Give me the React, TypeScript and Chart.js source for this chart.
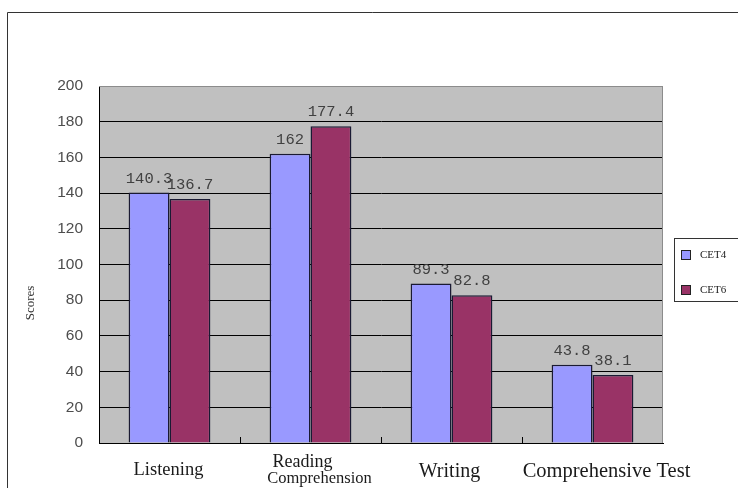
import { useEffect, useRef } from 'react';
import { Chart, registerables } from 'chart.js';

Chart.register(...registerables);

// Score categories and the two test groups
const categoryLines: string[][] = [
  ['Listening'],
  ['Reading', 'Comprehension'],
  ['Writing'],
  ['Comprehensive Test'],
];
const categories = categoryLines.map((l) => l.join(' '));
const seriesNames = ['CET4', 'CET6'];
const cet4Scores = [140.3, 162, 89.3, 43.8];
const cet6Scores = [136.7, 177.4, 82.8, 38.1];
const yMin = 0;
const yMax = 200;
const yStep = 20;
const yTitle = 'Scores';

const seriesColors = ['#9999FF', '#993366'];

// Per-line typography for the category captions under the axis
const captionStyle = [
  [{ dx: -1, y: 475, size: 18.5 }],
  [
    { dx: -8, y: 467, size: 18 },
    { dx: 9, y: 483, size: 16.5 },
  ],
  [{ dx: -2, y: 477, size: 20 }],
  [{ dx: 14, y: 477, size: 20.5 }],
];

const decorations = {
  id: 'decorations',
  beforeDraw(chart: any) {
    const { ctx, chartArea: a, width, height } = chart;
    ctx.save();
    ctx.fillStyle = '#ffffff';
    ctx.fillRect(0, 0, width, height);
    ctx.fillStyle = '#C0C0C0';
    ctx.fillRect(a.left, a.top, a.right - a.left, a.bottom - a.top);
    ctx.restore();
  },
  afterDraw(chart: any) {
    const { ctx, chartArea: a } = chart;
    const xScale = chart.scales.x;
    ctx.save();

    // plot frame: grey top and right edges
    ctx.strokeStyle = '#8c8c8c';
    ctx.lineWidth = 1;
    ctx.beginPath();
    ctx.moveTo(a.left, a.top + 0.5);
    ctx.lineTo(a.right - 0.5, a.top + 0.5);
    ctx.lineTo(a.right - 0.5, a.bottom);
    ctx.stroke();

    // inward category separators on the bottom axis
    ctx.strokeStyle = '#000000';
    ctx.beginPath();
    for (let i = 1; i < categories.length; i++) {
      const x = Math.round((xScale.getPixelForValue(i - 1) + xScale.getPixelForValue(i)) / 2) + 0.5;
      ctx.moveTo(x, a.bottom);
      ctx.lineTo(x, a.bottom - 6);
    }
    ctx.stroke();

    // value labels above bars
    ctx.font = '15.5px "Liberation Mono", monospace';
    ctx.fillStyle = '#404040';
    ctx.textAlign = 'center';
    ctx.textBaseline = 'alphabetic';
    chart.data.datasets.forEach((ds: any, di: number) => {
      const meta = chart.getDatasetMeta(di);
      meta.data.forEach((bar: any, i: number) => {
        ctx.fillText(String(ds.data[i]), bar.x, bar.y - 10);
      });
    });

    // category captions
    ctx.fillStyle = '#1a1a1a';
    ctx.textAlign = 'center';
    categoryLines.forEach((lines, i) => {
      const cx = xScale.getPixelForValue(i);
      lines.forEach((line, j) => {
        const st = captionStyle[i][j];
        ctx.font = `${st.size}px "Liberation Serif", "Times New Roman", serif`;
        ctx.fillText(line, cx + st.dx, st.y);
      });
    });

    // y axis title
    ctx.save();
    ctx.translate(31, 303);
    ctx.rotate(-Math.PI / 2);
    ctx.font = '13px "Liberation Serif", serif';
    ctx.fillStyle = '#333333';
    ctx.textAlign = 'center';
    ctx.textBaseline = 'middle';
    ctx.fillText(yTitle, 0, 0);
    ctx.restore();

    // legend box
    ctx.strokeStyle = '#333333';
    ctx.strokeRect(674.5, 238.5, 100, 63);
    ctx.font = '11px "Liberation Serif", serif';
    ctx.textAlign = 'left';
    ctx.textBaseline = 'middle';
    chart.data.datasets.forEach((ds: any, di: number) => {
      const cy = 255 + di * 35;
      ctx.fillStyle = ds.backgroundColor;
      ctx.fillRect(681, cy - 5, 10, 10);
      ctx.strokeStyle = '#222222';
      ctx.strokeRect(681.5, cy - 4.5, 9, 9);
      ctx.fillStyle = '#222222';
      ctx.fillText(ds.label, 700, cy);
    });

    // outer chart frame
    ctx.strokeStyle = '#333333';
    ctx.beginPath();
    ctx.moveTo(7.5, 488);
    ctx.lineTo(7.5, 12.5);
    ctx.lineTo(738, 12.5);
    ctx.stroke();

    ctx.restore();
  },
};

export default function App() {
  const canvasRef = useRef<HTMLCanvasElement>(null);

  useEffect(() => {
    if (!canvasRef.current) return;
    const chart = new Chart(canvasRef.current, {
      type: 'bar',
      data: {
        labels: categories,
        datasets: [cet4Scores, cet6Scores].map((data, i) => ({
          label: seriesNames[i],
          data,
          backgroundColor: seriesColors[i],
          borderColor: '#1a1a33',
          borderWidth: 1.5,
          borderSkipped: 'start',
          categoryPercentage: 0.58,
          barPercentage: 1,
        })),
      },
      options: {
        animation: false,
        responsive: true,
        maintainAspectRatio: false,
        layout: { padding: { top: 86, right: 75, bottom: 45, left: 0 } },
        plugins: {
          legend: { display: false },
          tooltip: { enabled: false },
        },
        scales: {
          x: {
            ticks: { display: false },
            grid: { display: false },
            border: { display: true, color: '#000000', width: 1 },
            afterFit: (scale: any) => {
              scale.height = 0;
            },
          },
          y: {
            min: yMin,
            max: yMax,
            ticks: {
              stepSize: yStep,
              padding: 16,
              color: '#4d4d4d',
              font: { family: '"Liberation Sans", Arial, sans-serif', size: 15.5 },
            },
            grid: {
              drawTicks: false,
              color: (c: any) => (c.tick && c.tick.value === yMax ? '#8c8c8c' : '#000000'),
              lineWidth: 1,
            },
            border: { display: true, color: '#000000', width: 1 },
            afterFit: (scale: any) => {
              scale.width = 99;
            },
          },
        },
      },
      plugins: [decorations],
    });
    return () => chart.destroy();
  }, []);

  return (
    <div style={{ position: 'fixed', left: 0, top: 0, width: 738, height: 488 }}>
      <canvas ref={canvasRef} />
    </div>
  );
}
